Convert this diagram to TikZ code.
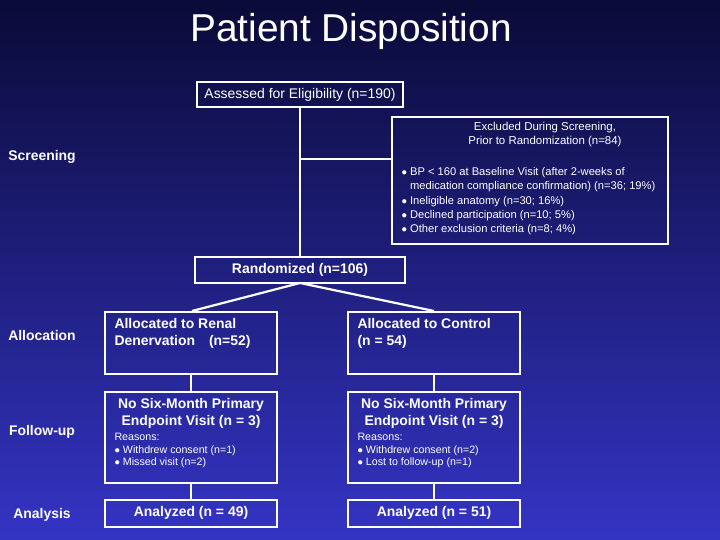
\documentclass[tikz,border=0pt]{standalone}
\usepackage{fontspec}
\setmainfont{Liberation Sans}
\definecolor{bgtop}{HTML}{0A0A38}
\definecolor{bgbot}{HTML}{3434C4}
\begin{document}
\begin{tikzpicture}[x=1bp,y=-1bp,
  bx/.style={draw=white,line width=1.6bp,inner sep=0pt},
  ln/.style={draw=white,line width=2.2bp},
  side/.style={text=white,font=\bfseries\fontsize{14}{16}\selectfont},
  txt/.style={text=white,font=\fontsize{14}{17}\selectfont},
  btxt/.style={text=white,font=\bfseries\fontsize{14}{17}\selectfont,align=center},
  sm/.style={text=white,font=\fontsize{10.7}{12.5}\selectfont,align=left,anchor=north west}]
\shade[top color=bgtop,bottom color=bgbot] (0,0) rectangle (720,540);
\useasboundingbox (0,0) rectangle (720,540);
\node[text=white,font=\fontsize{39}{44}\selectfont] (title) at (351,31) {Patient Disposition};
% boxes
\draw[bx] (197,82) rectangle (403,107); \node[txt] (ass) at (300,95) {Assessed for Eligibility (n=190)};
\draw[bx] (392,117) rectangle (668,244);
\node[txt,align=center,font=\fontsize{11.5}{14}\selectfont] (exc) at (545,135) {Excluded During Screening,\\Prior to Randomization (n=84)};
\node[sm,font=\fontsize{11.2}{14.3}\selectfont] (excl) at (398,164) {$\bullet$ BP < 160 at Baseline Visit (after 2-weeks of\\\phantom{$\bullet$ }medication compliance confirmation) (n=36; 19\%)\\$\bullet$ Ineligible anatomy (n=30; 16\%)\\$\bullet$ Declined participation (n=10; 5\%)\\$\bullet$ Other exclusion criteria (n=8; 4\%)};
\draw[bx] (195,257) rectangle (405,283); \node[btxt] (rand) at (300,270) {Randomized (n=106)};
% left column
\draw[bx] (105,312) rectangle (277,374);
\node[btxt,align=left,anchor=north west] (la) at (111,315) {Allocated to Renal\\Denervation\quad(n=52)};
\draw[bx] (105,392) rectangle (277,483);
\node[btxt,anchor=north] (lf) at (191,395) {No Six-Month Primary\\Endpoint Visit (n = 3)};
\node[sm] (lfr) at (111,430) {Reasons:\\$\bullet$ Withdrew consent (n=1)\\$\bullet$ Missed visit (n=2)};
\draw[bx] (105,500) rectangle (277,527); \node[btxt] (lan) at (191,513) {Analyzed (n = 49)};
% right column
\draw[bx] (348,312) rectangle (520,374);
\node[btxt,align=left,anchor=north west] (ra) at (354,315) {Allocated to Control\\(n = 54)};
\draw[bx] (348,392) rectangle (520,483);
\node[btxt,anchor=north] (rf) at (434,395) {No Six-Month Primary\\Endpoint Visit (n = 3)};
\node[sm] (rfr) at (354,430) {Reasons:\\$\bullet$ Withdrew consent (n=2)\\$\bullet$ Lost to follow-up (n=1)};
\draw[bx] (348,500) rectangle (520,527); \node[btxt] (ran) at (434,513) {Analyzed (n = 51)};
% connectors
\coordinate (a1) at (300,107); \coordinate (a2) at (300,257); \coordinate (j) at (300,159); \coordinate (e) at (392,159);
\draw[ln] (a1) -- (a2); \draw[ln] (j) -- (e);
\coordinate (r) at (300,283); \coordinate (l1) at (192,311); \coordinate (r1) at (434,311);
\draw[ln] (l1) -- (r) -- (r1);
\draw[ln] (191,374) -- (191,392); \draw[ln] (191,483) -- (191,500);
\draw[ln] (434,374) -- (434,392); \draw[ln] (434,483) -- (434,500);
% side labels
\node[side] (s1) at (42,157) {Screening};
\node[side] (s2) at (42,336) {Allocation};
\node[side] (s3) at (42,432) {Follow-up};
\node[side] (s4) at (42,515) {Analysis};
\end{tikzpicture}
\end{document}
